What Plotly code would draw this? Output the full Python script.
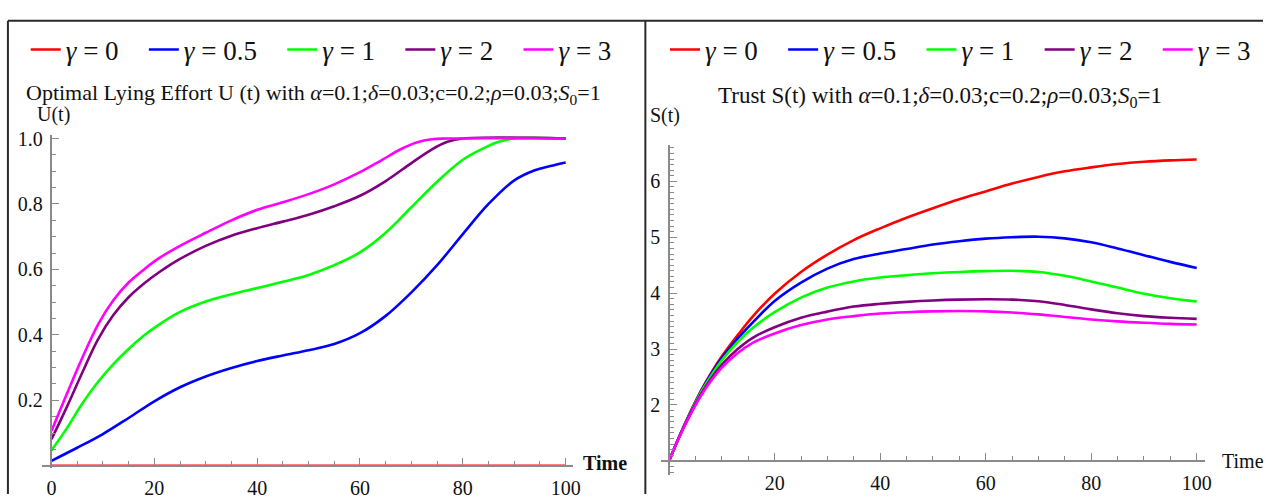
import plotly.graph_objects as go

# ---------------- data ----------------
series_names = ["<i>γ</i> = 0", "<i>γ</i> = 0.5", "<i>γ</i> = 1", "<i>γ</i> = 2", "<i>γ</i> = 3"]
series_colors = ["#ff0000", "#0000ff", "#00ff00", "#800080", "#ff00ff"]

# Left panel: optimal lying effort U(t)
t_u0 = [0, 100]
u_g0 = [0, 0]
t_u05 = [0, 5, 10, 15, 20, 25, 30, 35, 40, 45, 50, 55, 60, 65, 70, 75, 80, 85, 90, 94, 97, 100]
u_g05 = [0.015, 0.055, 0.097, 0.146, 0.197, 0.24, 0.273, 0.299, 0.32, 0.337, 0.353, 0.372, 0.405,
         0.458, 0.53, 0.613, 0.708, 0.8, 0.872, 0.903, 0.916, 0.927]
t_u1 = [0, 3, 6, 9, 12, 15, 18, 21, 25, 30, 35, 40, 45, 50, 55, 60, 65, 70, 75, 80, 84, 87, 90, 100]
u_g1 = [0.047, 0.115, 0.19, 0.255, 0.31, 0.357, 0.398, 0.432, 0.47, 0.502, 0.524, 0.543, 0.562,
        0.583, 0.613, 0.652, 0.712, 0.79, 0.868, 0.935, 0.97, 0.99, 1.0, 1.0]
t_u2 = [0, 3, 6, 9, 12, 15, 18, 21, 25, 30, 35, 40, 45, 50, 55, 60, 65, 70, 74, 77, 80, 100]
u_g2 = [0.081, 0.18, 0.285, 0.385, 0.46, 0.515, 0.557, 0.592, 0.632, 0.672, 0.703, 0.726, 0.746,
        0.767, 0.793, 0.825, 0.87, 0.925, 0.967, 0.99, 1.0, 1.0]
t_u3 = [0, 3, 6, 9, 12, 15, 18, 21, 25, 30, 35, 40, 45, 50, 55, 60, 64, 68, 71, 74, 77, 100]
u_g3 = [0.106, 0.22, 0.33, 0.43, 0.505, 0.56, 0.60, 0.635, 0.672, 0.712, 0.75, 0.782, 0.805,
        0.83, 0.86, 0.897, 0.932, 0.968, 0.988, 0.998, 1.0, 1.0]

# Right panel: trust S(t)
t_s = [0, 2, 4, 6, 8, 10, 13, 16, 20, 25, 30, 35, 40, 45, 50, 55, 60, 65, 70, 75, 80, 85, 90, 95, 100]
s_g0 = [1, 1.45, 1.87, 2.25, 2.58, 2.87, 3.25, 3.6, 3.99, 4.38, 4.69, 4.95, 5.16, 5.35, 5.52,
        5.68, 5.82, 5.96, 6.08, 6.18, 6.25, 6.31, 6.35, 6.375, 6.39]
s_g05 = [1, 1.45, 1.86, 2.24, 2.56, 2.84, 3.19, 3.49, 3.86, 4.19, 4.44, 4.61, 4.71, 4.79, 4.87,
         4.93, 4.975, 5.0, 5.01, 4.98, 4.91, 4.80, 4.68, 4.56, 4.45]
s_g1 = [1, 1.45, 1.85, 2.22, 2.53, 2.8, 3.13, 3.39, 3.66, 3.92, 4.1, 4.21, 4.28, 4.32, 4.355,
        4.38, 4.395, 4.40, 4.38, 4.31, 4.21, 4.1, 3.99, 3.91, 3.85]
s_g2 = [1, 1.45, 1.84, 2.19, 2.48, 2.72, 3.0, 3.21, 3.39, 3.56, 3.67, 3.76, 3.81, 3.845, 3.87,
        3.885, 3.89, 3.885, 3.855, 3.79, 3.71, 3.64, 3.59, 3.56, 3.54]
s_g3 = [1, 1.44, 1.82, 2.16, 2.44, 2.67, 2.93, 3.12, 3.28, 3.43, 3.53, 3.59, 3.635, 3.66, 3.675,
        3.68, 3.675, 3.655, 3.62, 3.575, 3.53, 3.495, 3.47, 3.45, 3.44]

u_x_ticks = [0, 20, 40, 60, 80, 100]
u_y_ticks = [0.2, 0.4, 0.6, 0.8, 1.0]
u_y_ticktext = ["0.2", "0.4", "0.6", "0.8", "1.0"]
s_x_ticks = [20, 40, 60, 80, 100]
s_y_ticks = [2, 3, 4, 5, 6]

left_title = "Optimal Lying Effort U (t) with <i>α</i>=0.1;<i>δ</i>=0.03;c=0.2;<i>ρ</i>=0.03;<i>S</i><sub>0</sub>=1"
right_title = "Trust S(t) with <i>α</i>=0.1;<i>δ</i>=0.03;c=0.2;<i>ρ</i>=0.03;<i>S</i><sub>0</sub>=1"

# ---------------- layout helpers (pixel geometry) ----------------
W, H = 1276, 499
SERIF = "Liberation Serif, Times New Roman, serif"
AX = "#8a8a8a"

def px_x(p):
    return p / W

def px_y(p):
    return (H - p) / H

# left panel geometry
L_X0, L_XS = 52.0, 5.195        # pixel of t=0, px per unit
L_Y0, L_YS = 470.0, 336.0       # pixel of U=0, px per unit
l_xr = [-1.8, 101.5]
l_yr = [-0.006, 1.01]
# right panel geometry
R_X0, R_XS = 676.0, 5.33
R_Y1, R_YS = 465.0, 57.4        # pixel of S=1
r_xr = [-1.5, 101.5]
r_yr = [0.75, 6.65]

l_xdom = [px_x(L_X0 + l_xr[0] * L_XS), px_x(L_X0 + l_xr[1] * L_XS)]
l_ydom = [px_y(L_Y0 - l_yr[0] * L_YS), px_y(L_Y0 - l_yr[1] * L_YS)]
r_xdom = [px_x(R_X0 + r_xr[0] * R_XS), px_x(R_X0 + r_xr[1] * R_XS)]
r_ydom = [px_y(R_Y1 - (r_yr[0] - 1) * R_YS), px_y(R_Y1 - (r_yr[1] - 1) * R_YS)]

fig = go.Figure()

left_data = [(t_u0, u_g0), (t_u05, u_g05), (t_u1, u_g1), (t_u2, u_g2), (t_u3, u_g3)]
right_data = [(t_s, s_g0), (t_s, s_g05), (t_s, s_g1), (t_s, s_g2), (t_s, s_g3)]

PAD = "&nbsp;&nbsp;&nbsp;"
for i, (tx, uy) in enumerate(left_data):
    fig.add_trace(go.Scatter(
        x=tx, y=uy, mode="lines", name=series_names[i] + PAD,
        line=dict(color=series_colors[i], width=2.6, shape="spline", smoothing=1.0),
        xaxis="x", yaxis="y", legend="legend", showlegend=True))

for i, (tx, sy) in enumerate(right_data):
    fig.add_trace(go.Scatter(
        x=tx, y=sy, mode="lines", name=series_names[i] + PAD,
        line=dict(color=series_colors[i], width=2.6, shape="spline", smoothing=1.0),
        xaxis="x2", yaxis="y2", legend="legend2", showlegend=True))

tickfont = dict(family=SERIF, size=20, color="#111")
common_ax = dict(showgrid=False, zeroline=False, showline=True, linecolor=AX, linewidth=1.6,
                 ticks="inside", ticklen=7, tickwidth=1.4, tickcolor=AX, tickfont=tickfont,
                 layer="above traces")

legend_common = dict(orientation="h", font=dict(family=SERIF, size=27, color="#111"),
                     bgcolor="rgba(0,0,0,0)", yanchor="middle", xanchor="left",
                     itemwidth=30, tracegroupgap=0)

fig.update_layout(
    width=W, height=H, margin=dict(l=0, r=0, t=0, b=0),
    paper_bgcolor="white", plot_bgcolor="white",
    xaxis=dict(domain=l_xdom, range=l_xr, anchor="free", position=px_y(L_Y0),
               tickvals=u_x_ticks, ticklabelstandoff=4,
               minor=dict(dtick=5, tick0=0, ticks="inside", ticklen=4, tickcolor=AX, tickwidth=1.2),
               **common_ax),
    yaxis=dict(domain=l_ydom, range=l_yr, anchor="free", position=px_x(L_X0),
               tickvals=u_y_ticks, ticktext=u_y_ticktext, ticklabelstandoff=4,
               minor=dict(dtick=0.05, tick0=0, ticks="inside", ticklen=4, tickcolor=AX, tickwidth=1.2),
               **common_ax),
    xaxis2=dict(domain=r_xdom, range=r_xr, anchor="free", position=px_y(R_Y1),
                tickvals=s_x_ticks, ticklabelstandoff=4,
                minor=dict(dtick=5, tick0=0, ticks="inside", ticklen=4, tickcolor=AX, tickwidth=1.2),
                **common_ax),
    yaxis2=dict(domain=r_ydom, range=r_yr, anchor="free", position=px_x(R_X0),
                tickvals=s_y_ticks, ticklabelstandoff=4,
                minor=dict(dtick=0.1, tick0=0, ticks="inside", ticklen=4, tickcolor=AX, tickwidth=1.2),
                **common_ax),
    legend=dict(x=px_x(26), y=px_y(43), **legend_common),
    legend2=dict(x=px_x(672), y=px_y(43), **legend_common),
    showlegend=True,
)

fig.add_annotation(text=left_title, x=px_x(317), y=px_y(88), xref="paper", yref="paper",
                   showarrow=False, font=dict(family=SERIF, size=22, color="#111"),
                   xanchor="center", yanchor="middle")
fig.add_annotation(text=right_title, x=px_x(950), y=px_y(91), xref="paper", yref="paper",
                   showarrow=False, font=dict(family=SERIF, size=23, color="#111"),
                   xanchor="center", yanchor="middle")
lab_font = dict(family=SERIF, size=20, color="#111")
fig.add_annotation(text="U(t)", x=px_x(54), y=px_y(109), xref="paper", yref="paper",
                   showarrow=False, font=lab_font, xanchor="center", yanchor="middle")
fig.add_annotation(text="S(t)", x=px_x(672), y=px_y(110), xref="paper", yref="paper",
                   showarrow=False, font=lab_font, xanchor="center", yanchor="middle")
fig.add_annotation(text="<b>Time</b>", x=px_x(611), y=px_y(467), xref="paper", yref="paper",
                   showarrow=False, font=lab_font, xanchor="center", yanchor="middle")
fig.add_annotation(text="Time", x=px_x(1256), y=px_y(465), xref="paper", yref="paper",
                   showarrow=False, font=lab_font, xanchor="center", yanchor="middle")

# frame lines
frame = dict(color="#2a2a2a", width=2)
fig.add_shape(type="line", xref="paper", yref="paper", x0=px_x(8), x1=1, y0=px_y(13), y1=px_y(13), line=frame)
fig.add_shape(type="line", xref="paper", yref="paper", x0=px_x(8), x1=px_x(8), y0=0, y1=px_y(13), line=frame)
fig.add_shape(type="line", xref="paper", yref="paper", x0=px_x(652), x1=px_x(652), y0=0, y1=px_y(13), line=frame)

fig.write_html("out.html", config={"displayModeBar": False},
               post_script="document.body.style.margin='0px';document.body.style.overflow='hidden';")
